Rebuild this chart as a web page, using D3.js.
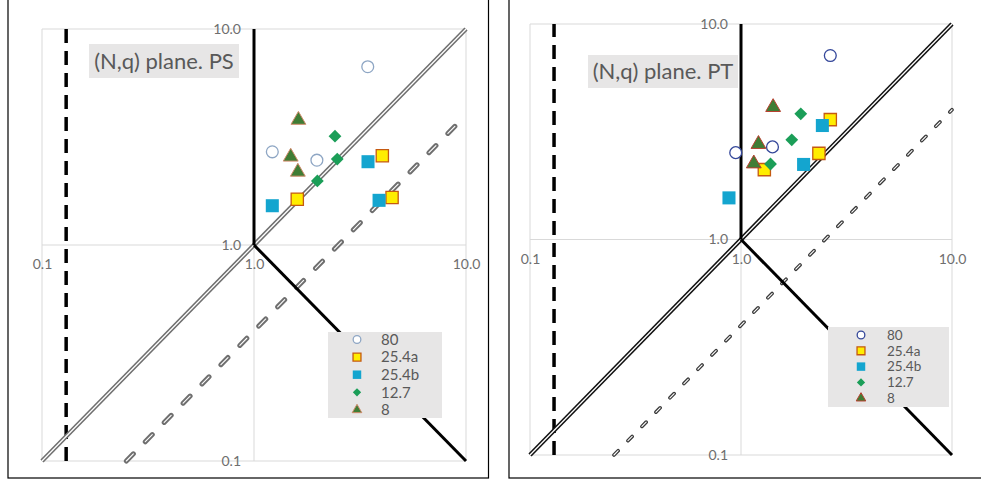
<!DOCTYPE html>
<html>
<head>
<meta charset="utf-8">
<script src="https://cdn.jsdelivr.net/npm/d3@7"></script>
<style>
  html, body { margin: 0; padding: 0; background: #fff; }
  svg { display: block; }
  text { font-family: Lato, "Open Sans", sans-serif; }
</style>
</head>
<body>
<svg id="chart" width="981" height="480"></svg>
<script>
// ---- data ----------------------------------------------------------
const seriesNames = ["80", "25.4a", "25.4b", "12.7", "8"];
const tickValues = [0.1, 1, 10];
const xTickLabels = ["0.1", "1.0", "10.0"];
const yTickLabels = ["0.1", "1.0", "10.0"];
const panelTitles = ["(N,q) plane. PS", "(N,q) plane. PT"];

// reference lines (in data units)
const cutoffN = 0.13;          // vertical dashed line
const ratioLine = 0.4;         // dashed q = 0.4 N
const kneeLine = [[1, 1], [10, 0.1]];
const unitLine = [[0.1, 0.1], [10, 10]];
const wallLine = [[1, 1], [1, 10]];

// PS points [N, q]
const ps80  = [[3.44, 6.69], [1.22, 2.70], [1.98, 2.47]];
const ps254a = [[4.03, 2.59], [1.60, 1.63], [4.48, 1.66]];
const ps254b = [[3.45, 2.43], [1.22, 1.52], [3.89, 1.61]];
const ps127 = [[2.41, 3.19], [2.47, 2.50], [1.99, 1.98]];
const ps8   = [[1.62, 3.79], [1.49, 2.56], [1.61, 2.18]];

// PT points [N, q]
const pt80  = [[2.65, 7.14], [0.944, 2.53], [1.41, 2.69]];
const pt254a = [[2.65, 3.60], [2.34, 2.51], [1.29, 2.11]];
const pt254b = [[2.43, 3.38], [1.98, 2.23], [0.877, 1.56]];
const pt127 = [[1.92, 3.83], [1.74, 2.90], [1.38, 2.24]];
const pt8   = [[1.42, 4.11], [1.21, 2.77], [1.15, 2.25]];

// ---- drawing -------------------------------------------------------
const svg = d3.select("#chart");

function markerStyle(name, panel) {
  switch (name) {
    case "80": return { type: d3.symbolCircle, size: 110, fill: "#fff",
      stroke: panel === 0 ? "#8ea6c4" : "#34479a", sw: 1.3, rot: 0 };
    case "25.4a": return { type: d3.symbolSquare, size: 150, fill: "#ffed00", stroke: "#c55a11", sw: 1.3, rot: 0 };
    case "25.4b": return { type: d3.symbolSquare, size: 170, fill: "#14a5cf", stroke: "none", sw: 0, rot: 0 };
    case "12.7": return { type: d3.symbolSquare, size: 82, fill: "#1b9e58", stroke: "none", sw: 0, rot: 45 };
    default: return { type: d3.symbolTriangle, size: 95, fill: "#3f7d35",
      stroke: panel === 0 ? "#d08a6a" : "#b8402f", sw: 1, rot: 0 };
  }
}

function drawPanel(p) {
  const g = svg.append("g");

  // frame around the panel
  g.append("rect")
    .attr("x", p.frame[0]).attr("y", p.frame[1])
    .attr("width", p.frame[2]).attr("height", p.frame[3])
    .attr("fill", "#fff").attr("stroke", "#000").attr("stroke-width", 1.2);

  const x = d3.scaleLog().domain([0.1, 10]).range([p.plot[0], p.plot[2]]);
  const y = d3.scaleLog().domain([0.1, 10]).range([p.plot[3], p.plot[1]]);

  // grid at decades
  g.append("g").selectAll("line").data(tickValues).join("line")
    .attr("x1", d => x(d)).attr("x2", d => x(d))
    .attr("y1", y(0.1)).attr("y2", y(10))
    .attr("stroke", "#d9d9d9").attr("stroke-width", 1);
  g.append("g").selectAll("line").data(tickValues).join("line")
    .attr("y1", d => y(d)).attr("y2", d => y(d))
    .attr("x1", x(0.1)).attr("x2", x(10))
    .attr("stroke", "#d9d9d9").attr("stroke-width", 1);

  // axis labels: y labels left of the N=1 axis, x labels below the q=1 axis
  const xAxis = d3.axisBottom(x).tickValues(tickValues)
    .tickFormat((d, i) => xTickLabels[i]).tickSize(0).tickPadding(0);
  const gx = g.append("g").attr("transform", `translate(0,${y(1) + 20})`).call(xAxis);
  gx.select(".domain").remove();
  gx.selectAll("text").attr("fill", "#6e6e6e").attr("font-size", p.tickFont)
    .attr("font-family", "Lato, sans-serif").attr("dy", "0.32em").attr("y", 0);

  const yAxis = d3.axisLeft(y).tickValues(tickValues)
    .tickFormat((d, i) => yTickLabels[i]).tickSize(0).tickPadding(0);
  const gy = g.append("g").attr("transform", `translate(${x(1) - 13},0)`).call(yAxis);
  gy.select(".domain").remove();
  gy.selectAll("text").attr("fill", "#6e6e6e").attr("font-size", p.tickFont)
    .attr("font-family", "Lato, sans-serif");

  const line = d3.line().x(d => x(d[0])).y(d => y(d[1]));

  // vertical dashed cutoff
  g.append("path").datum([[cutoffN, 0.1], [cutoffN, 10]]).attr("d", line)
    .attr("stroke", "#000").attr("stroke-width", 3.5).attr("fill", "none")
    .attr("stroke-dasharray", "14 8");

  // q = 0.4 N dashed compound line
  const ratioPts = [[0.1 / ratioLine, 0.1], [10, 10 * ratioLine]];
  g.append("path").datum(ratioPts).attr("d", line)
    .attr("stroke", p.dashOuter).attr("stroke-width", p.dashW).attr("fill", "none")
    .attr("stroke-linecap", "round").attr("stroke-dasharray", p.dashArr);
  g.append("path").datum(ratioPts).attr("d", line)
    .attr("stroke", "#fff").attr("stroke-width", 1.1).attr("fill", "none")
    .attr("stroke-linecap", "round").attr("stroke-dasharray", p.dashArr);

  // q = N compound line
  g.append("path").datum(unitLine).attr("d", line)
    .attr("stroke", p.unitOuter).attr("stroke-width", 4.4).attr("fill", "none");
  g.append("path").datum(unitLine).attr("d", line)
    .attr("stroke", "#fff").attr("stroke-width", 1.3).attr("fill", "none");

  // thick solid boundaries
  [wallLine, kneeLine].forEach(seg => {
    g.append("path").datum(seg).attr("d", line)
      .attr("stroke", "#000").attr("stroke-width", 3).attr("fill", "none");
  });

  // title box
  const t = g.append("g");
  t.append("rect").attr("x", p.title[0]).attr("y", p.title[1])
    .attr("width", p.title[2]).attr("height", p.title[3]).attr("fill", "#e7e6e6");
  t.append("text").attr("x", p.title[0] + p.title[2] / 2).attr("y", p.title[1] + p.title[3] / 2)
    .attr("dy", "0.35em").attr("text-anchor", "middle")
    .attr("font-size", p.titleFont).attr("fill", "#595959").text(p.name);

  // data points
  p.series.forEach((pts, i) => {
    const st = markerStyle(seriesNames[i], p.idx);
    g.append("g").selectAll("path").data(pts).join("path")
      .attr("transform", d => `translate(${x(d[0])},${y(d[1])}) rotate(${st.rot})`)
      .attr("d", d3.symbol().type(st.type).size(st.size))
      .attr("fill", st.fill).attr("stroke", st.stroke).attr("stroke-width", st.sw);
  });

  // legend
  const L = p.legend;
  const lg = g.append("g");
  lg.append("rect").attr("x", L.x).attr("y", L.y).attr("width", L.w).attr("height", L.h)
    .attr("fill", "#e7e6e6");
  seriesNames.forEach((name, i) => {
    const st = markerStyle(name, p.idx);
    const cy = L.row0 + i * L.step;
    lg.append("path").attr("transform", `translate(${L.mx},${cy}) rotate(${st.rot})`)
      .attr("d", d3.symbol().type(st.type).size(st.size * 0.42))
      .attr("fill", st.fill).attr("stroke", st.stroke).attr("stroke-width", st.sw);
    lg.append("text").attr("x", L.tx).attr("y", cy).attr("dy", "0.35em")
      .attr("font-size", L.font).attr("fill", "#595959").text(name);
  });
}

drawPanel({
  idx: 0, name: panelTitles[0],
  frame: [8, -5, 480.5, 483],
  plot: [42, 29, 466, 461],
  title: [89, 44, 150, 34], titleFont: 22,
  tickFont: 14,
  dashOuter: "#6f6f6f", dashW: 5, dashArr: "10 17",
  unitOuter: "#6f6f6f",
  series: [ps80, ps254a, ps254b, ps127, ps8],
  legend: { x: 328, y: 332, w: 114, h: 86, mx: 357, tx: 381, row0: 339.5, step: 17.6, font: 15 }
});

drawPanel({
  idx: 1, name: panelTitles[1],
  frame: [509, -5, 490, 483],
  plot: [530, 24, 952, 455],
  title: [588, 55, 150, 33], titleFont: 22,
  tickFont: 14,
  dashOuter: "#3a3a3a", dashW: 3.6, dashArr: "6 14",
  unitOuter: "#111",
  series: [pt80, pt254a, pt254b, pt127, pt8],
  legend: { x: 828, y: 327, w: 121, h: 80, mx: 861, tx: 887, row0: 335, step: 15.8, font: 13.5 }
});
</script>
</body>
</html>
